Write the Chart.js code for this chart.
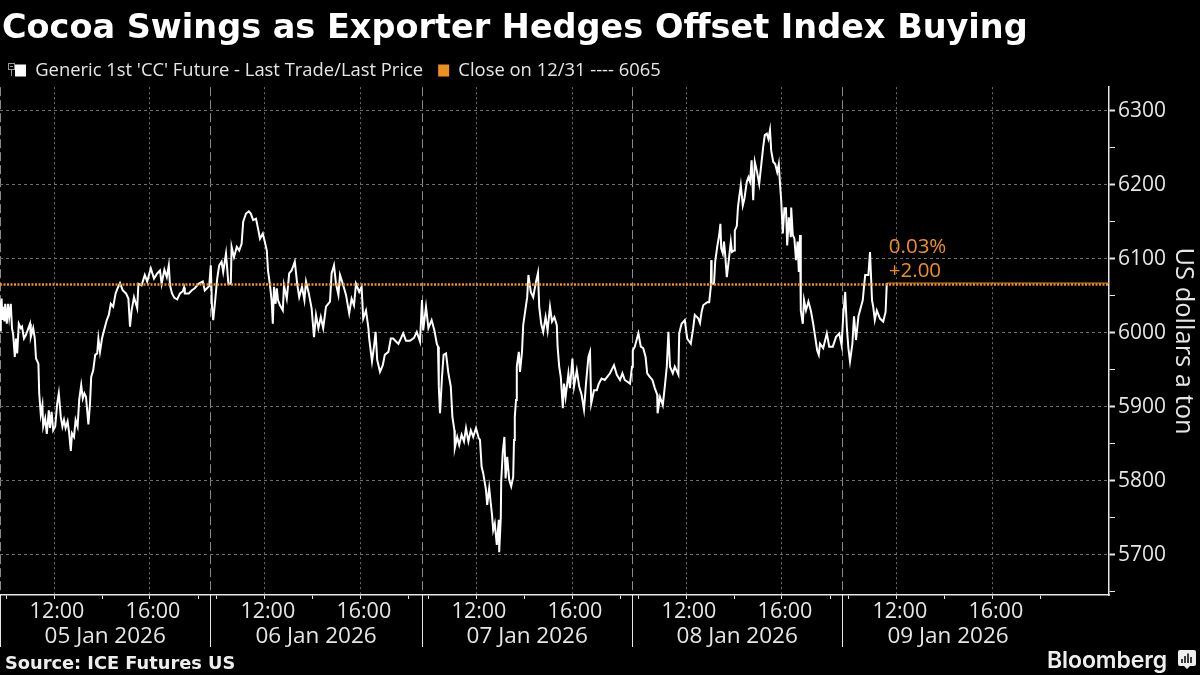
<!DOCTYPE html>
<html>
<head>
<meta charset="utf-8">
<script src="https://cdn.jsdelivr.net/npm/chart.js@4"></script>
<style>
html,body{margin:0;padding:0;background:#000;width:1200px;height:675px;overflow:hidden}
#wrap{position:relative;width:1200px;height:675px}
canvas{position:absolute;left:0;top:0}
.source{position:absolute;left:5px;top:652px;font:bold 17.800px "DejaVu Sans";color:#eee;white-space:nowrap}
.brand{position:absolute;left:1047px;top:646px;font:600 23px Inter;letter-spacing:-.1px;color:#eee;white-space:nowrap}
.logo{position:absolute;left:1178px;top:649px}
.fold{position:absolute;left:8px;top:63px}
</style>
</head>
<body>
<div id="wrap">
<canvas id="c" width="1200" height="675"></canvas>
<svg class="fold" width="8" height="14"><rect x=".5" y=".5" width="6" height="6" fill="none" stroke="#999"/><path d="M2 3.5h3M3.5 7v6" stroke="#999"/></svg>
<div class="source">Source: ICE Futures US</div>
<div class="brand">Bloomberg</div>
<svg class="logo" width="18" height="21"><path d="M2 1h14a2 2 0 0 1 2 2v12a2 2 0 0 1-2 2h-4l-3 3-3-3H2a2 2 0 0 1-2-2V3a2 2 0 0 1 2-2z" fill="#eee"/><path d="M4 10v4M7 7v7M10 4.500v9.500M13 8v6" stroke="#000" stroke-width="1.500"/></svg>
</div>
<script>
const titleText = "Cocoa Swings as Exporter Hedges Offset Index Buying";
const seriesLabel = "Generic 1st 'CC' Future - Last Trade/Last Price";
const closeLabel = "Close on 12/31 ---- 6065";
const yAxisTitle = "US dollars a ton";
const closeValue = 6065;
const changeLabels = ["0.03%", "+2.00"];

// Minutes of trading time since the first session opened
const sessionStarts = [0, 527, 1055, 1580, 2107];
const hourOffsets = [15, 135, 255, 375, 495];
const hourLabels = ["", "12:00", "", "16:00", ""];
const dayMidOffset = 263;
const dayLabels = ["05 Jan 2026", "06 Jan 2026", "07 Jan 2026", "08 Jan 2026", "09 Jan 2026"];
const timeMax = 2772.5;
const priceMin = 5645.3, priceMax = 6331.8;
const priceTicks = [5650,5700,5750,5800,5850,5900,5950,6000,6050,6100,6150,6200,6250,6300];

const day1Times = [0,2,4,6,8,11,13,17,20,23,27,30,33,37,40,43,47,52,55,60,65,71,75,77,83,87,90,96,98,102,106,108,113,117,122,125,129,133,138,143,147,152,156,160,164,169,173,177,180,185,189,194,198,203,207,211,215,221,225,228,233,238,243,246,250,255,260,267,272,277,283,289,294,300,307,315,321,325,329,335,343,346,354,362,368,377,385,393,400,404,411,417,422,425,430,436,443,450,457,460,462,472,479,487,496,507,512,523];
const day1Prices = [6003,6039,6046,6017,6035,6015,6039,6012,6039,6021,6039,6006,5997,5967,5992,5972,6012,6006,6008,5992,5997,6006,6012,5994,6006,5992,5965,5958,5918,5889,5902,5873,5884,5863,5895,5871,5893,5868,5873,5904,5918,5886,5873,5882,5871,5880,5864,5840,5864,5859,5882,5873,5909,5929,5911,5918,5913,5876,5904,5940,5949,5970,5972,5992,5974,5992,6003,6017,6024,6039,6035,6053,6060,6067,6057,6053,6046,6008,6030,6048,6033,6066,6064,6078,6069,6087,6073,6080,6084,6066,6085,6075,6091,6064,6053,6047,6045,6053,6056,6061,6053,6053,6057,6060,6066,6069,6057,6063];

const day2Times = [527,530,533,538,543,548,554,558,565,571,577,579,585,592,598,604,608,615,622,627,633,640,645,650,657,662,667,670,675,679,682,685,689,692,695,700,707,710,717,723,729,737,743,748,755,761,765,772,779,785,790,796,802,808,815,825,829,835,840,846,850,857,865,873,879,885,890,898,904,908,915,921,923,930,935,939,943,950,957,962,971,977,983,990,996,1002,1008,1015,1025,1035,1042,1050];
const day2Prices = [6091,6035,6017,6044,6073,6091,6096,6082,6107,6066,6066,6116,6102,6116,6111,6120,6150,6161,6164,6161,6152,6154,6141,6127,6134,6123,6111,6084,6064,6044,6012,6062,6039,6060,6044,6037,6030,6064,6046,6080,6084,6096,6066,6048,6062,6044,6069,6053,6033,5994,6024,6006,6021,6006,6035,6042,6080,6091,6066,6051,6078,6066,6051,6026,6046,6037,6066,6055,6062,6019,6030,6006,5992,5961,5981,6001,5963,5947,5956,5970,5974,5992,5992,5988,5985,5992,5999,5989,5989,5993,6001,5988];

const day3Times = [1055,1058,1065,1071,1079,1086,1092,1095,1097,1100,1105,1109,1115,1121,1127,1131,1136,1137,1143,1148,1154,1160,1165,1171,1177,1183,1190,1197,1200,1204,1208,1215,1218,1223,1227,1230,1233,1237,1242,1247,1248,1252,1253,1257,1261,1264,1268,1273,1278,1283,1285,1287,1290,1292,1297,1300,1305,1308,1314,1318,1321,1327,1333,1340,1345,1348,1353,1358,1364,1369,1375,1380,1386,1392,1394,1398,1402,1407,1410,1414,1421,1425,1431,1435,1442,1448,1454,1460,1465,1471,1475,1478,1485,1492,1497,1504,1512,1525,1535,1542,1550,1556,1562,1575];
const day3Prices = [6044,6003,6035,6006,6017,6003,5985,5981,5927,5891,5940,5970,5972,5945,5927,5886,5868,5844,5859,5848,5862,5853,5871,5853,5868,5859,5871,5857,5855,5819,5810,5787,5767,5790,5769,5754,5733,5742,5713,5747,5703,5750,5799,5839,5859,5803,5832,5801,5792,5805,5855,5886,5909,5954,5974,5947,5974,6010,6033,6048,6078,6055,6048,6069,6081,6035,6012,6001,6021,6003,6035,6015,6021,6010,5981,5954,5940,5898,5931,5913,5945,5925,5965,5927,5949,5927,5916,5896,5931,5967,5974,5904,5922,5922,5931,5938,5936,5945,5956,5943,5936,5945,5936,5931];

const day4Times = [1580,1582,1587,1596,1602,1608,1614,1618,1625,1631,1637,1643,1644,1650,1657,1662,1667,1671,1675,1682,1687,1696,1698,1704,1712,1718,1727,1733,1737,1746,1750,1754,1758,1768,1773,1777,1778,1779,1785,1788,1793,1798,1801,1803,1807,1810,1813,1817,1822,1827,1830,1835,1837,1842,1845,1848,1852,1857,1861,1867,1871,1875,1879,1883,1887,1892,1898,1903,1908,1912,1917,1921,1925,1928,1933,1938,1943,1947,1950,1953,1957,1961,1965,1968,1972,1977,1978,1982,1986,1990,1994,1997,2000,2002,2007,2010,2015,2021,2027,2033,2038,2043,2047,2050,2058,2067,2073,2082,2090,2098,2104];
const day4Prices = [5954,5976,5981,5999,5981,5979,5967,5945,5940,5936,5925,5916,5891,5913,5902,5927,5954,6001,5954,5945,5954,5943,5999,6012,6017,5992,5985,6006,6024,6019,6013,6028,6037,6041,6041,6062,6098,6066,6066,6096,6116,6132,6147,6114,6107,6123,6105,6075,6098,6123,6109,6111,6138,6144,6170,6183,6199,6172,6181,6204,6210,6204,6233,6179,6231,6219,6201,6226,6251,6267,6269,6262,6274,6246,6231,6228,6217,6228,6201,6179,6134,6168,6168,6118,6156,6129,6169,6132,6127,6098,6123,6082,6132,6030,6012,6044,6030,6042,6030,6012,5994,5976,5970,5985,5979,5999,5981,5981,5994,5999,5983];

const day5Times = [2108,2113,2117,2121,2125,2131,2135,2140,2146,2150,2157,2160,2163,2171,2175,2178,2180,2183,2187,2192,2200,2208,2214,2217];
const day5Prices = [6022,6055,6008,5979,5961,5985,6022,5990,6022,6030,6044,6062,6078,6078,6109,6071,6044,6035,6017,6030,6019,6015,6028,6067];

const allTimes = [...day1Times, ...day2Times, ...day3Times, ...day4Times, ...day5Times];
const allPrices = [...day1Prices, ...day2Prices, ...day3Prices, ...day4Prices, ...day5Prices];
const lastTime = allTimes[allTimes.length - 1];
const lastPrice = allPrices[allPrices.length - 1];

const TEXT = "#e6e6e6", ORANGE = "#ee8f22", GRID = "#6e6e6e";
const FONT = "'Open Sans'";

const layoutTweaks = {
  id: "layoutTweaks",
  beforeInit(chart) {
    const fit = chart.legend.fit;
    chart.legend.fit = function () { fit.call(this); this.height = 41; };
  },
  afterLayout(chart) { chart.titleBlock.left = 2; }
};

const changeText = {
  id: "changeText",
  afterDatasetsDraw(chart) {
    const { ctx, scales: { x, y } } = chart;
    const px = x.getPixelForValue(lastTime) + 2;
    const py = y.getPixelForValue(lastPrice);
    ctx.save();
    ctx.font = "20.500px " + FONT;
    ctx.fillStyle = ORANGE;
    ctx.textBaseline = "middle";
    ctx.fillText(changeLabels[0], px, py - 36);
    ctx.fillText(changeLabels[1], px, py - 12);
    ctx.restore();
  }
};

new Chart(document.getElementById("c"), {
  type: "line",
  data: {
    datasets: [
      { label: seriesLabel, xAxisID: "x", yAxisID: "y", order: 2,
        data: allTimes.map((t, i) => ({ x: t, y: allPrices[i] })),
        borderColor: "#ffffff", backgroundColor: "#ffffff", borderWidth: 2,
        pointRadius: 0, tension: 0, borderJoinStyle: "miter" },
      { label: closeLabel, xAxisID: "x", yAxisID: "y", order: 1,
        data: [{ x: 0, y: closeValue }, { x: timeMax, y: closeValue }],
        borderColor: ORANGE, backgroundColor: ORANGE, borderWidth: 2.4, borderDash: [2, 1.500],
        pointRadius: 0 },
      { label: "", xAxisID: "x", yAxisID: "y", order: 1,
        data: [{ x: lastTime, y: lastPrice }, { x: timeMax, y: lastPrice }],
        borderColor: ORANGE, backgroundColor: ORANGE, borderWidth: 1, pointRadius: 0 }
    ]
  },
  plugins: [layoutTweaks, changeText],
  options: {
    responsive: false, animation: false, devicePixelRatio: 1,
    layout: { padding: 0 },
    plugins: {
      tooltip: { enabled: false },
      title: { display: true, text: titleText, align: "start", color: "#ffffff",
        font: { family: "'DejaVu Sans'", size: 33.5, weight: "bold", lineHeight: 1.2 },
        padding: { top: 9, bottom: -3 } },
      legend: { display: true, position: "top", align: "start",
        labels: { color: TEXT, boxWidth: 11, boxHeight: 12, padding: 15,
          font: { family: FONT, size: 18.4 },
          filter: item => item.text !== "",
          generateLabels(chart) {
            return chart.data.datasets.map((d, i) => ({
              text: d.label, fillStyle: d.backgroundColor, strokeStyle: d.backgroundColor,
              lineWidth: 0, datasetIndex: i, fontColor: TEXT }));
          } } }
    },
    scales: {
      xDays: { type: "linear", axis: "x", position: "bottom", weight: 0, min: 0, max: timeMax,
        afterBuildTicks(s) { s.ticks = sessionStarts.map(v => ({ value: v })); },
        afterFit(s) { s.height = 0; },
        ticks: { display: false, autoSkip: false },
        border: { display: false, dash: [9, 4] },
        grid: { color: "#8a8a8a", lineWidth: 1, drawTicks: true, tickLength: 52, tickColor: "#e6e6e6", tickWidth: 1, tickBorderDash: [] } },
      x: { type: "linear", position: "bottom", weight: 1, min: 0, max: timeMax,
        afterBuildTicks(s) {
          s.ticks = sessionStarts.flatMap(d => hourOffsets.map(o => ({ value: d + o })));
        },
        afterFit(s) { s.height = 28; },
        ticks: { autoSkip: false, maxRotation: 0, minRotation: 0, padding: 0, color: TEXT, labelOffset: 3,
          font: { family: FONT, size: 21.5 },
          callback: (v, i) => hourLabels[i % hourLabels.length] },
        border: { display: true, color: "#e6e6e6", width: 1.500, dash: [2, 3] },
        grid: { lineWidth: 1, tickLength: 4, tickColor: "#e6e6e6", tickBorderDash: [],
          color: ctx => (hourLabels[ctx.index % hourLabels.length] ? GRID : "rgba(0,0,0,0)") } },
      x2: { type: "linear", axis: "x", position: "bottom", weight: 2, min: 0, max: timeMax,
        afterBuildTicks(s) { s.ticks = sessionStarts.map(d => ({ value: d + dayMidOffset })); },
        afterFit(s) { s.height = 52; },
        ticks: { autoSkip: false, maxRotation: 0, minRotation: 0, padding: 0, color: TEXT,
          font: { family: FONT, size: 22.5 },
          callback: (v, i) => dayLabels[i] },
        border: { display: false },
        grid: { display: false, drawTicks: false } },
      y: { type: "linear", position: "right", min: priceMin, max: priceMax,
        afterBuildTicks(s) { s.ticks = priceTicks.map(v => ({ value: v })); },
        afterFit(s) { s.width = 91; },
        ticks: { autoSkip: false, padding: 3, color: TEXT, font: { family: FONT, size: 21 },
          callback: v => (v % 100 === 0 ? String(v) : "") },
        border: { display: true, color: "#e6e6e6", width: 1.500, dash: [3, 3] },
        grid: { lineWidth: 1, tickLength: 6, tickBorderDash: [],
          tickColor: "#e6e6e6",
          tickWidth: ctx => (ctx.tick && ctx.tick.value % 100 === 0 ? 2 : 1),
          color: ctx => (ctx.tick && ctx.tick.value % 100 === 0 ? GRID : "rgba(0,0,0,0)") },
        title: { display: true, text: yAxisTitle, color: TEXT, padding: { top: 1, bottom: 0 },
          font: { family: FONT, size: 25.5 } } }
    }
  }
});
</script>
</body>
</html>
